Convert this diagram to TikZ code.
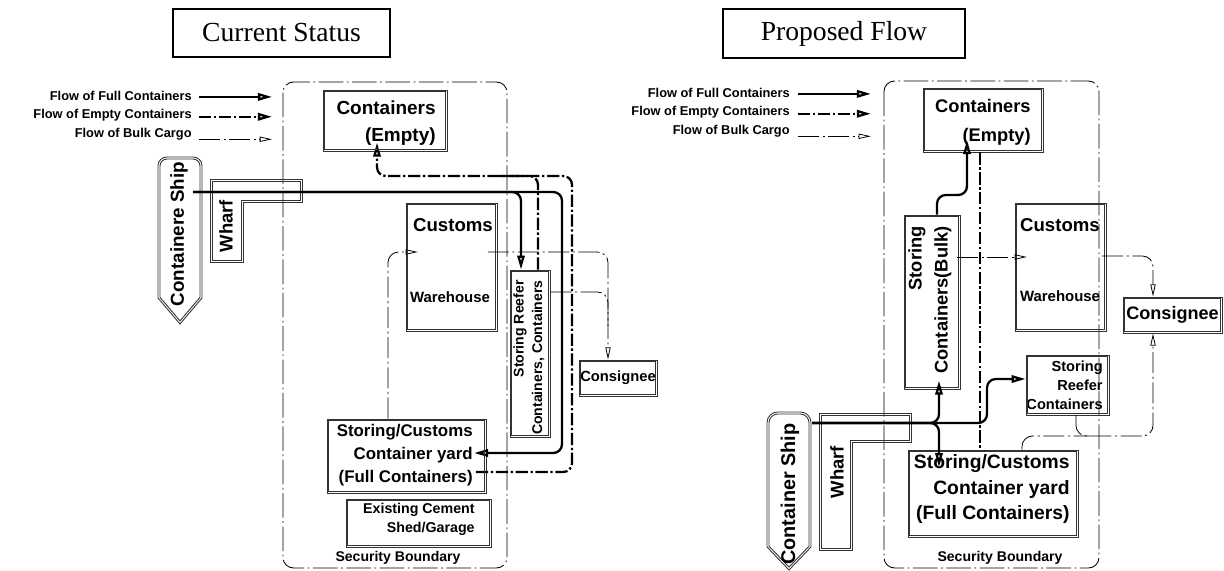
\documentclass[tikz,border=0pt]{standalone}
\usepackage{fontspec}
\setmainfont{Liberation Serif}
\setsansfont{Liberation Sans}
\usetikzlibrary{arrows.meta,fit}
\newcommand{\bsf}[2]{\sffamily\bfseries\fontsize{#1pt}{#2pt}\selectfont}

\begin{document}
\begin{tikzpicture}[x=0.02cm, y=-0.02cm,
  edge/.style={draw=black!80, line width=0.5pt},
  box/.style={edge, inner sep=0pt},
  ttl/.style={draw, line width=0.9pt, inner sep=0pt},
  ttlfont/.style={font=\rmfamily\fontsize{15.7pt}{18pt}\selectfont},
  bnd/.style={line width=0.5pt, dash pattern=on 14pt off 2pt on 1pt off 2pt, rounded corners=6pt},
  txt/.style={inner sep=0pt},
  lgd/.style={txt, font=\bsf{7.3}{9}},
  full/.style={line width=1.3pt, rounded corners=5pt},
  empty/.style={full, dash pattern=on 7pt off 1.5pt on 1.3pt off 1.5pt},
  bulk/.style={line width=0.45pt, dash pattern=on 12pt off 2pt on 1.2pt off 2pt, rounded corners=6pt},
  fh/.style={-{Triangle[open, length=8pt, width=4.2pt]}},
  bh/.style={-{Triangle[open, length=7pt, width=3pt]}}]
\useasboundingbox (0,0) rectangle (1224,571);

%% ---------------- current status ----------------
\node[ttl, fit={(173,9) (390,57)}, label={[ttlfont]center:Current Status}] (statL) {};
\node[lgd, anchor=east] (keyL1) at (192,96) {Flow of Full Containers};
\node[lgd, anchor=east] (keyL2) at (192,115) {Flow of Empty Containers};
\node[lgd, anchor=east] (keyL3) at (192,134) {Flow of Bulk Cargo};
\draw[full, fh] ([shift={(4pt,-0.5pt)}]keyL1.east) -- ++(73,0);
\draw[empty, fh] ([shift={(4pt,-1pt)}]keyL2.east) -- ++(73,0);
\draw[bulk, bh] ([shift={(4pt,-3pt)}]keyL3.east) -- ++(73,0);

\draw[bnd] (283,82) rectangle (507,568);
\node[txt, font=\bsf{8}{10}] (secL) at (398,558) {Security Boundary};

% ship and wharf (double outlines)
\draw[edge] (180,324) -- (158,298) [rounded corners=5pt] -- (158,157) -- (202,157) [sharp corners] -- (202,298) -- cycle;
\draw[edge] (180,320.9) -- (160,297.3) [rounded corners=4pt] -- (160,159) -- (200,159) [sharp corners] -- (200,297.3) -- cycle;
\node[txt, rotate=90, font=\bsf{10.7}{12}] (shipL) at (179,234) {Containere Ship};
\draw[edge] (210,179) -- (302,179) -- (302,202) -- (243,202) -- (243,262) -- (210,262) -- cycle;
\draw[edge] (212,181) -- (300,181) -- (300,200) -- (241,200) -- (241,260) -- (212,260) -- cycle;
\node[txt, rotate=90, font=\bsf{10.5}{12}] (wharfL) at (226,226) {Wharf};
\coordinate (portL) at (193,192);

% boxes
\node[box, fit={(323,90) (447,151)}] (emptyL) {};
\node[txt, anchor=east, align=right, font=\bsf{10.8}{15.3}] (emptyLt) at (436,123.5) {Containers\\(Empty)};
\node[box, fit={(406,203) (497,331)}] (customsL) {};
\node[txt, font=\bsf{10.6}{12}] (customsLt) at (453,225) {Customs};
\node[txt, font=\bsf{8.5}{10}] (whouseLt) at (450,297) {Warehouse};
\node[box, fit={(510,270) (550,437)}] (reeferL) {};
\node[txt, rotate=90, anchor=east, font=\bsf{8}{10}] (reeferLa) at (520,280) {Storing Reefer};
\node[txt, rotate=90, anchor=east, font=\bsf{8}{10}] (reeferLb) at (538,280) {Containers, Containers};
\node[box, fit={(579,360) (657,396)}, label={[font=\bsf{8.4}{10}]center:Consignee}] (consL) {};
\node[box, fit={(327,419) (486,493)}] (yardL) {};
\node[txt, anchor=east, align=right, font=\bsf{9.6}{13}] (yardLt) at (473,455) {Storing/Customs\\Container yard\\(Full Containers)};
\node[box, fit={(346,499) (491,547)}] (shedL) {};
\node[txt, anchor=east, align=right, font=\bsf{8.1}{10.8}] (shedLt) at (475,519.5) {Existing Cement\\Shed/Garage};

% flows
\draw[full, fh] (portL) -- (521,192) -- (reeferL.north -| 521,0);
\draw[full, fh, shorten >=-7pt] (portL) -- (562,192) -- (562,453) -- (yardL.east |- 0,453);
\draw[empty, fh, shorten <=-6pt, shorten >=-5pt] (yardL.east |- 0,472) -- (572,472) -- (572,176) -- (377,176) -- (emptyL.south -| 377,0);
\draw[empty] (reeferL.north -| 538,0) -- (538,176) -- (500,176);
\draw[bulk, bh, shorten >=-7pt] (yardL.north -| 388,0) -- (388,252) -- (customsL.west |- 0,252);
\draw[bulk, bh, shorten <=-5.5pt] (customsL.east |- 0,252) -- (608,252) -- (consL.north -| 608,0);
\draw[bulk] (reeferL.east |- 0,292) -- (608,292) -- (608,330);

%% ---------------- proposed flow ----------------
\node[ttl, fit={(723,9) (965,58)}, label={[ttlfont]center:Proposed Flow}] (propR) {};
\node[lgd, anchor=east] (keyR1) at (790,93) {Flow of Full Containers};
\node[lgd, anchor=east] (keyR2) at (790,112) {Flow of Empty Containers};
\node[lgd, anchor=east] (keyR3) at (790,131) {Flow of Bulk Cargo};
\draw[full, fh] ([shift={(4.5pt,-0.5pt)}]keyR1.east) -- ++(73,0);
\draw[empty, fh] ([shift={(4.5pt,-1pt)}]keyR2.east) -- ++(73,0);
\draw[bulk, bh] ([shift={(4.5pt,-3pt)}]keyR3.east) -- ++(73,0);

\draw[bnd] (884,81) rectangle (1099,568);
\node[txt, font=\bsf{8}{10}] (secR) at (1000,558) {Security Boundary};

% ship and wharf (double outlines)
\draw[edge] (789,570) -- (767,547) [rounded corners=6pt] -- (767,412) -- (811,412) [sharp corners] -- (811,547) -- cycle;
\draw[edge] (789,567.1) -- (769,546.2) [rounded corners=5pt] -- (769,414) -- (809,414) [sharp corners] -- (809,546.2) -- cycle;
\node[txt, rotate=90, font=\bsf{11.3}{13}] (shipR) at (790,494) {Container Ship};
\draw[edge] (819,413) -- (911,413) -- (911,442) -- (852,442) -- (852,550) -- (819,550) -- cycle;
\draw[edge] (821,415) -- (909,415) -- (909,440) -- (850,440) -- (850,548) -- (821,548) -- cycle;
\node[txt, rotate=90, font=\bsf{10.5}{12}] (wharfR) at (837,472) {Wharf};
\coordinate (portR) at (812,423);

% boxes
\node[box, fit={(923,88) (1043,152)}] (emptyR) {};
\node[txt, anchor=east, align=right, font=\bsf{10.4}{16.4}] (emptyRt) at (1031,122.5) {Containers\\(Empty)};
\node[box, fit={(904,215) (960,389)}] (storeB) {};
\node[txt, rotate=90, anchor=east, font=\bsf{10.4}{12}] (storeBa) at (917,226) {Storing};
\node[txt, rotate=90, anchor=east, font=\bsf{10.4}{12}] (storeBb) at (943,226) {Containers(Bulk)};
\node[box, fit={(1015,203) (1106,331)}] (customsR) {};
\node[txt, font=\bsf{10.6}{12}] (customsRt) at (1060,225) {Customs};
\node[txt, font=\bsf{8.5}{10}] (whouseRt) at (1060,296) {Warehouse};
\node[box, fit={(1123,297) (1222,333)}, label={[font=\bsf{10.3}{12}]center:Consignee}] (consR) {};
\node[box, fit={(1026,355) (1109,415)}] (reeferR) {};
\node[txt, anchor=east, align=right, font=\bsf{8.3}{10.8}] (reeferRt) at (1103,385) {Storing\\Reefer\\Containers};
\node[box, fit={(908,450) (1078,537)}] (yardR) {};
\node[txt, anchor=east, align=right, font=\bsf{11}{14.7}] (yardRt) at (1070,489) {Storing/Customs\\Container yard\\(Full Containers)};

% inner line of every double-framed box
\foreach \b in {emptyL,customsL,reeferL,consL,yardL,shedL,emptyR,storeB,customsR,consR,reeferR,yardR}
  \draw[edge] ([shift={(1.15pt,-1.15pt)}]\b.north west) rectangle ([shift={(-1.15pt,1.15pt)}]\b.south east);

% flows
\draw[full, fh] (portR) -- (987,423) -- (987,379) -- (reeferR.west |- 0,379);
\draw[full, fh, shorten >=-5pt] (portR) -- (939,423) -- (storeB.south -| 939,0);
\draw[full, fh, shorten >=-10pt] (portR) -- (939,423) -- (yardR.north -| 939,0);
\draw[full, fh, shorten >=-7pt] (storeB.north -| 937,0) -- (937,195) -- (967,195) -- (emptyR.south -| 967,0);
\draw[empty] (emptyR.south -| 980,0) -- (yardR.north -| 980,0);
\draw[bulk, bh, shorten <=-2pt, shorten >=-7pt] (storeB.east |- 0,257) -- (customsR.west |- 0,257);
\draw[bulk, bh, shorten <=-2.5pt] (customsR.east |- 0,256) -- (1153,256) -- (consR.north -| 1153,0);
\draw[bulk, bh] (reeferR.south -| 1076,0) -- (1076,436) -- (1153,436) -- (consR.south -| 1153,0);
\draw[bulk] (yardR.north -| 1022,0) -- (1022,436) -- (1090,436);
\end{tikzpicture}
\end{document}
